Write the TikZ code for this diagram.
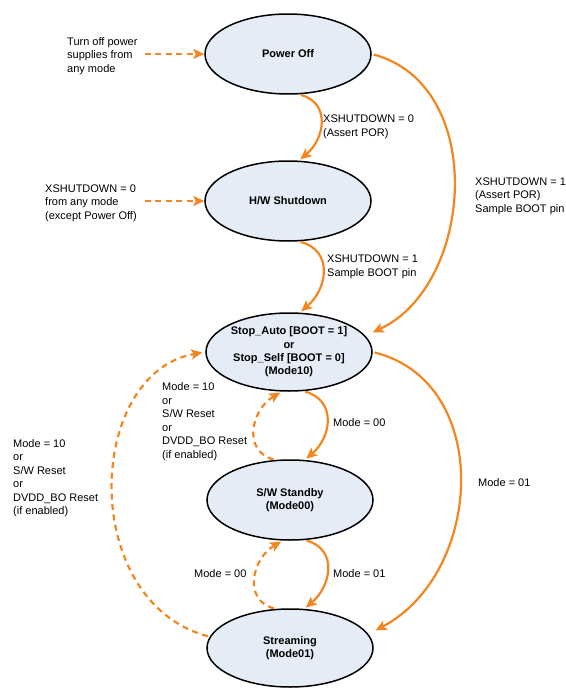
\documentclass[tikz,border=0pt]{standalone}
\usepackage{fontspec}
\setmainfont{Liberation Sans}
\usetikzlibrary{arrows.meta,shapes.geometric}
\definecolor{flow}{RGB}{244,134,32}
\definecolor{statefill}{RGB}{230,236,246}
\tikzset{
  state/.style={ellipse, draw=black, line width=1.5pt, fill=statefill,
    minimum width=166pt, minimum height=80pt, inner sep=0pt, align=center,
    font=\fontsize{11}{13.3}\selectfont\bfseries},
  trans/.style={draw=flow, line width=2.2pt, shorten <=2pt, shorten >=2pt,
    -{Stealth[length=11pt,width=10pt,inset=2.5pt]}},
  soft/.style={trans, dash pattern=on 6pt off 4.5pt},
  note/.style={align=left, inner sep=0pt, anchor=west,
    font=\fontsize{11}{13.5}\selectfont}
}
\begin{document}
\begin{tikzpicture}[x=1pt,y=1pt]
    \useasboundingbox (0,0) rectangle (565,-688);
    % states
    \node[state] (pwroff) at (288,-54) {Power Off};
    \node[state] (hwshut) at (288,-201) {H/W Shutdown};
    \node[state, minimum height=78pt] (stopst) at (289,-352) {Stop\_Auto [BOOT = 1]\\or\\Stop\_Self [BOOT = 0]\\(Mode10)};
    \node[state] (standby) at (290,-500) {S/W Standby\\(Mode00)};
    \node[state, minimum height=78pt] (stream) at (290,-648) {Streaming\\(Mode01)};
    % entries from any mode
    \node[note] (offtxt) at (67,-56) {Turn off power\\supplies from\\any mode};
    \draw[soft, shorten <=7pt, shorten >=0pt] (offtxt.east |- pwroff.west) -- (pwroff.west);
    \node[note] (xsdtxt) at (45,-203) {XSHUTDOWN = 0\\from any mode\\(except Power Off)};
    \draw[soft, shorten <=8pt, shorten >=0pt] (xsdtxt.east |- hwshut.west) -- (hwshut.west);
    % power-up
    \draw[trans] (pwroff.-75) to[out=-15, in=40, looseness=1.3] (hwshut.75);
    \node[note] (portxt) at (323,-127) {XSHUTDOWN = 0\\(Assert POR)};
    \draw[trans] (hwshut.-75) to[out=-15, in=40, looseness=1.3] (stopst.75);
    \node[note] (boottxt) at (327,-267) {XSHUTDOWN = 1\\Sample BOOT pin};
    \draw[trans, shorten >=8pt] (pwroff.east) .. controls +(-15:120) and +(25:120) .. (stopst.12);
    \node[note] (fulltxt) at (475,-196) {XSHUTDOWN = 1\\(Assert POR)\\Sample BOOT pin};
    % stop -> streaming
    \draw[trans, shorten >=8pt] (stopst.east) .. controls +(-14:124) and +(28:131) .. (stream.10);
    \node[note] (m01far) at (478,-483) {Mode = 01};
    % stop <-> standby
    \draw[trans] (stopst.-70) to[out=-15, in=40, looseness=1.3] (standby.70);
    \node[note] (m00up) at (333,-423) {Mode = 00};
    \draw[soft] (standby.110) to[out=165, in=-150, looseness=1.3] (stopst.-100);
    \node[note] (m10up) at (162,-421.5) {Mode = 10\\or\\S/W Reset\\or\\DVDD\_BO Reset\\(if enabled)};
    % standby <-> streaming
    \draw[trans] (standby.-70) to[out=-15, in=40, looseness=1.3] (stream.70);
    \node[note] (m01low) at (333,-574) {Mode = 01};
    \draw[soft] (stream.110) to[out=165, in=-150, looseness=1.3] (standby.-100);
    \node[note] (m00low) at (194,-574) {Mode = 00};
    % streaming -> stop
    \draw[soft, shorten >=3pt] (stream.172) .. controls +(165:136) and +(190:122) .. (stopst.west);
    \node[note] (m10far) at (13,-478) {Mode = 10\\or\\S/W Reset\\or\\DVDD\_BO Reset\\(if enabled)};
\end{tikzpicture}
\end{document}
